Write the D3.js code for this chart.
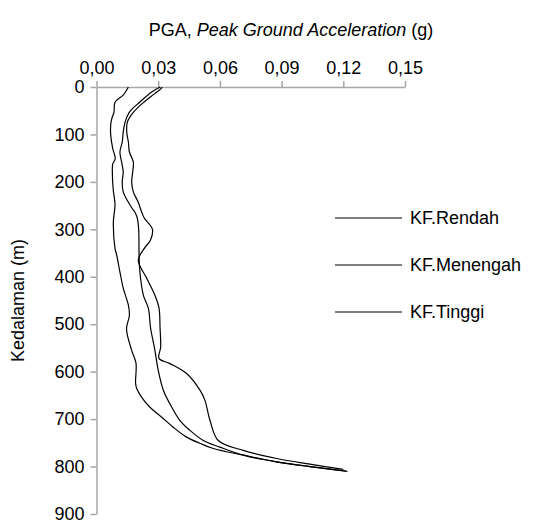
<!DOCTYPE html>
<html>
<head>
<meta charset="utf-8">
<script src="https://cdn.jsdelivr.net/npm/d3@7"></script>
<style>
  html, body { margin: 0; padding: 0; background: #fff; }
  svg { display: block; font-family: "Liberation Sans", Arial, sans-serif; }
</style>
</head>
<body>
<svg id="chart" width="536" height="523"></svg>
<script>
// PGA profiles with depth for three site classes
const seriesNames = ["KF.Rendah", "KF.Menengah", "KF.Tinggi"];

const depthRendah = [0, 17, 32, 53, 67, 80, 101, 130, 151, 162, 179, 215, 248, 284, 340, 354, 390, 424, 460, 481, 510, 555, 582, 624, 635, 654, 675, 696, 717, 738, 751, 762, 776, 790, 800, 810];
const pgaRendah   = [0.0155, 0.013, 0.009, 0.0085, 0.0074, 0.0069, 0.0069, 0.0079, 0.0091, 0.0079, 0.0077, 0.0081, 0.009, 0.0082, 0.009, 0.0098, 0.0114, 0.013, 0.0155, 0.016, 0.0146, 0.0171, 0.0192, 0.019, 0.0195, 0.022, 0.026, 0.0317, 0.0373, 0.0438, 0.0503, 0.0568, 0.0714, 0.0876, 0.1038, 0.122];

const depthMenengah = [0, 10, 32, 53, 74, 95, 116, 137, 158, 179, 200, 221, 243, 255, 264, 276, 300, 354, 390, 439, 466, 508, 555, 597, 639, 675, 703, 724, 745, 759, 776, 790, 800, 809];
const pgaMenengah   = [0.031, 0.027, 0.021, 0.016, 0.0139, 0.013, 0.0125, 0.0114, 0.0122, 0.013, 0.0125, 0.013, 0.0155, 0.0172, 0.0187, 0.0198, 0.0205, 0.0207, 0.0211, 0.0228, 0.0252, 0.0263, 0.0284, 0.030, 0.0325, 0.0366, 0.0406, 0.0455, 0.0519, 0.060, 0.0714, 0.0876, 0.1038, 0.121];

const depthTinggi = [0, 5, 15, 32, 53, 74, 95, 116, 137, 158, 179, 200, 221, 243, 264, 276, 300, 323, 338, 365, 403, 439, 466, 508, 548, 572, 583, 604, 639, 660, 703, 745, 766, 783, 795, 806];
const pgaTinggi   = [0.032, 0.031, 0.028, 0.023, 0.018, 0.015, 0.0147, 0.0155, 0.016, 0.0179, 0.0176, 0.0171, 0.0179, 0.0203, 0.022, 0.0232, 0.0272, 0.0262, 0.0236, 0.0203, 0.0244, 0.0284, 0.0304, 0.0309, 0.0312, 0.0304, 0.0357, 0.0438, 0.0503, 0.0527, 0.0552, 0.0592, 0.0714, 0.0876, 0.1038, 0.120];

const xTicks = [0, 0.03, 0.06, 0.09, 0.12, 0.15];
const yTicks = [0, 100, 200, 300, 400, 500, 600, 700, 800, 900];

const series = [
  { name: seriesNames[0], depth: depthRendah, pga: pgaRendah },
  { name: seriesNames[1], depth: depthMenengah, pga: pgaMenengah },
  { name: seriesNames[2], depth: depthTinggi, pga: pgaTinggi }
];

const svg = d3.select("#chart");
const axisColor = "#a6a6a6";
const fontSize = 18;

const x = d3.scaleLinear().domain([0, 0.15]).range([96.5, 405]);
const y = d3.scaleLinear().domain([0, 900]).range([87, 514]);

const fmt = v => d3.format(".2f")(v).replace(".", ",");

// top axis (PGA)
const xAxis = svg.append("g")
  .attr("transform", `translate(0,${y(0)})`)
  .call(d3.axisTop(x).tickValues(xTicks).tickFormat(fmt).tickSize(6).tickSizeOuter(0).tickPadding(7));

// left axis (depth)
const yAxis = svg.append("g")
  .attr("transform", `translate(${x(0)},0)`)
  .call(d3.axisLeft(y).tickValues(yTicks).tickFormat(d3.format("d")).tickSize(6).tickSizeOuter(0).tickPadding(6));

[xAxis, yAxis].forEach(g => {
  g.select(".domain").attr("stroke", axisColor).attr("stroke-width", 1.5);
  g.selectAll(".tick line").attr("stroke", axisColor).attr("stroke-width", 1.5);
  g.selectAll(".tick text")
    .attr("fill", "#000")
    .style("font-size", fontSize + "px")
    .style("font-family", "'Liberation Sans', Arial, sans-serif");
});

// profile lines
const line = d3.line()
  .x(d => x(d[1]))
  .y(d => y(d[0]))
  .curve(d3.curveCatmullRom.alpha(0.5));

svg.append("g").selectAll("path")
  .data(series)
  .join("path")
  .attr("d", s => line(d3.zip(s.depth, s.pga)))
  .attr("fill", "none")
  .attr("stroke", "#000")
  .attr("stroke-width", 1.2);

// x axis title
const title = svg.append("text")
  .attr("x", 291)
  .attr("y", 36)
  .attr("text-anchor", "middle")
  .style("font-size", fontSize + "px")
  .attr("fill", "#000");
title.append("tspan").text("PGA, ");
title.append("tspan").style("font-style", "italic").text("Peak Ground Acceleration");
title.append("tspan").text(" (g)");

// y axis title
svg.append("text")
  .attr("transform", `translate(24,${(y(0) + y(900)) / 2}) rotate(-90)`)
  .attr("text-anchor", "middle")
  .style("font-size", fontSize + "px")
  .attr("fill", "#000")
  .text("Kedalaman (m)");

// legend
const legendY = [218, 265, 312];
const legend = svg.append("g").selectAll("g")
  .data(series)
  .join("g")
  .attr("transform", (d, i) => `translate(335,${legendY[i]})`);
legend.append("line")
  .attr("x1", 0).attr("x2", 67)
  .attr("stroke", "#000").attr("stroke-width", 1.2);
legend.append("text")
  .attr("x", 75).attr("dy", "0.35em")
  .style("font-size", fontSize + "px")
  .attr("fill", "#000")
  .text(d => d.name);
</script>
</body>
</html>
